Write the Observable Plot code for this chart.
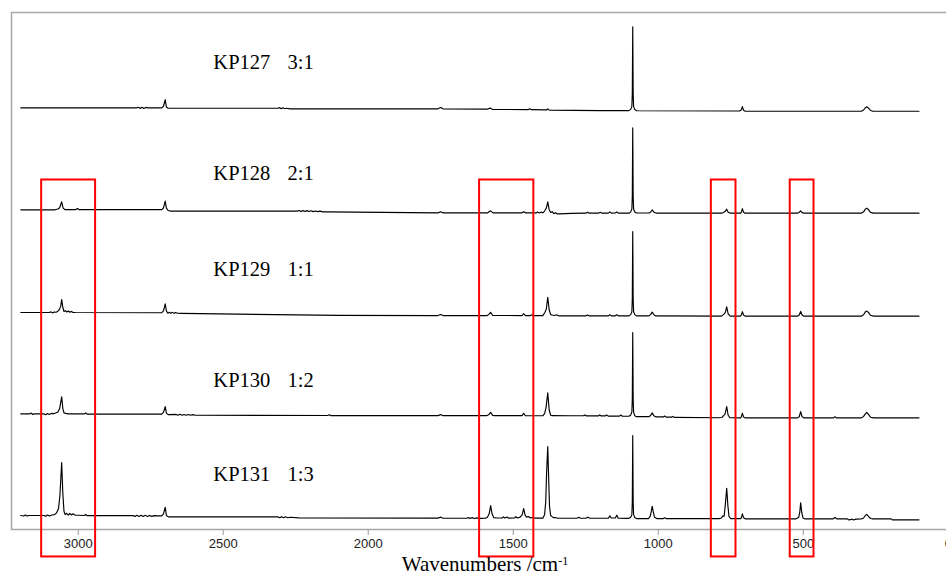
<!DOCTYPE html>
<html><head><meta charset="utf-8">
<script src="https://cdn.jsdelivr.net/npm/d3@7"></script>
<script src="https://cdn.jsdelivr.net/npm/@observablehq/plot@0.6"></script>
<style>
html,body{margin:0;padding:0;background:#fff;overflow:hidden;}
#chart{width:962px;}
</style></head><body><div id="chart"></div>
<script>
// ---- data ----
const names = ["KP127","KP128","KP129","KP130","KP131"];
const ratios = ["3:1","2:1","1:1","1:2","1:3"];
const labelLift = [50.5, 39.5, 46, 36, 44.5];   // label height above each trace (intensity units)
const labelWn = 2534, ratioWn = 2278;                 // wavenumber where labels start
const stackStep = 121.3;                              // vertical stacking between traces
const xTicks = [3000, 2500, 2000, 1500, 1000, 500, 0];
const xTitle = "Wavenumbers /cm";
const xTitleSup = "-1";
const boxStart = [3126, 1616, 817, 545];
const boxEnd   = [2940, 1429, 732, 463];
const boxTop = 403.4, boxBottom = -45.4;

// [wavenumber, relative intensity]
const kp127 = [
[3198,4],[2800,4],[2792,4.8],[2786,3.4],[2780,4.8],[2774,3.4],[2767,4.6],[2758,4],[2712,4],[2706,6],[2700,14],[2696,5],[2690,3.6],
[2312,3.6],[2305,4.3],[2300,3],[2294,4.2],[2288,3],[2282,3.6],[2270,2.9],
[1760,2.9],[1750,4.4],[1742,2.9],[1590,2.5],[1580,3.8],[1572,2.3],[1448,2],[1443,3],[1438,1.9],[1386,1.6],[1381,2.8],[1376,1.4],
[1200,0.8],[1101,0.8],[1095,2.3],[1091,5.8],[1089.5,21],[1088,100.5],[1086.5,21],[1085,5.5],[1081,2],[1075,0.6],
[720,0.3],[714,1.6],[710,5.6],[706,1.2],[700,0],
[300,0],[292,1.5],[286,4.2],[281,5.3],[276,4],[268,1],[260,0],[101,0]
];
const kp128 = [
[3198,4],[3080,4],[3070,5],[3064,6.5],[3057,13.5],[3052,6],[3046,4.3],[3008,4.3],[3003,5.6],[2998,4.3],
[2712,4.3],[2706,6.2],[2700,14.3],[2696,6],[2690,3.2],[2680,2.4],
[2245,2.4],[2238,3.2],[2232,1.9],[2225,3],[2218,1.9],[2211,3],[2204,1.9],[2197,2.8],[2190,1.8],[2182,2.6],[2174,1.8],[2166,2.4],[2158,1.6],[2140,1.5],
[1760,0.4],[1750,1.6],[1743,0.4],[1588,0.4],[1578,2.8],[1570,0.4],[1470,0.4],[1464,1.8],[1458,0.4],
[1420,0.4],[1416,1.4],[1410,0.3],[1404,1.2],[1398,0.4],[1392,2.5],[1386,6],[1381,13.5],[1376,4],[1371,0.8],[1366,1.8],[1360,-0.6],[1354,0.6],[1348,-0.9],[1340,-0.8],
[1300,-0.3],[1250,0],[1244,1.2],[1238,0],[1206,0],[1200,1],[1194,0],[1172,0],[1167,1.5],[1162,0],[1148,0.2],[1143,1.6],[1138,0],
[1101,0],[1095,1.5],[1091,5],[1089.5,20],[1088,101.5],[1086.5,20],[1085,5],[1081,1.5],[1075,0.2],
[1032,0.2],[1026,1.5],[1021,3.8],[1015,1.2],[1008,0.1],
[782,0],[775,0.8],[769,2.2],[764,4.8],[759,1.2],[752,0],
[716,0],[713,1.5],[710,5.4],[706,1.2],[701,0],
[520,0],[514,0.8],[509,2.8],[504,0.6],[498,0],
[300,0],[292,1.6],[286,4.8],[281,6],[276,4.4],[268,1],[258,0],[101,0]
];
const kp129 = [
[3198,3],[3100,3],[3094,3.8],[3089,2.6],[3083,3.6],[3076,3.4],[3070,4.6],[3064,7],[3060,11],[3057,18.5],[3053,9],[3049,4.2],[3044,5.2],[3039,3.6],[3034,4.8],[3029,3.4],[3024,4.3],[3018,3.2],[3010,3],
[2712,2.8],[2706,5],[2700,13.3],[2696,5],[2691,2.2],[2686,3.3],[2681,2.1],[2676,3.2],[2670,2],[2664,3],[2658,2.1],[2645,2],
[2100,-0.4],[1760,-0.6],[1750,0.7],[1742,-0.6],[1590,-0.6],[1584,0.8],[1578,3.3],[1571,-0.5],[1470,-0.6],[1464,1.6],[1458,-0.6],[1440,-0.6],[1436,0.4],[1432,-0.7],
[1398,-0.6],[1392,2.5],[1386,7],[1381,21.2],[1376,6],[1371,0.5],[1366,0],[1358,-0.6],[1350,0.4],[1344,-1],
[1250,-1],[1244,0.2],[1238,-1],[1172,-1],[1167,0.6],[1162,-1],[1148,-1],[1143,0.6],[1138,-1],
[1101,-1],[1095,0.5],[1091,4],[1089.5,19],[1088,99.5],[1086.5,19],[1085,4],[1081,0.5],[1075,-1],
[1032,-1],[1026,0.8],[1021,3.5],[1015,0.3],[1008,-1],
[782,-1.2],[775,0.5],[769,3],[764,9.8],[759,1.5],[752,-1.2],
[716,-1.2],[713,0.5],[710,4],[706,0],[701,-1.3],
[520,-1.3],[514,0],[509,4.3],[504,0],[498,-1.3],
[300,-1.3],[292,0.4],[286,3.8],[281,4.7],[276,3.4],[268,-0.3],[258,-1.3],[101,-1.3]
];
const kp130 = [
[3198,3.6],[3168,3.6],[3162,4.6],[3157,2.9],[3152,3.8],[3118,3.6],[3112,2.6],[3106,4],[3100,3],[3093,4.2],[3085,4],[3078,4.7],[3070,6],[3064,10],[3057,24],[3053,10],[3049,4.8],[3043,4.2],[3035,3.6],[3010,3.6],[2978,3.6],[2974,4.8],[2970,3.4],
[2712,3.4],[2706,5.5],[2700,12.3],[2696,4.5],[2690,2.8],[2662,3],[2656,2],[2649,3.1],[2642,2],[2635,3],[2628,2],[2620,2.9],[2613,2],[2605,2.7],[2597,2],[2585,2],
[2140,1.7],[2134,2.7],[2128,1.5],[1760,1.6],[1750,2.8],[1742,1.5],
[1592,1.5],[1585,2.6],[1578,5.5],[1571,1.9],[1564,1.5],[1470,1.5],[1464,4.3],[1458,1.4],[1398,1.4],[1392,4],[1387,11],[1381,28.6],[1376,8],[1371,2],[1366,1.5],
[1300,1.4],[1258,1.4],[1253,2.4],[1248,1.2],[1207,1.2],[1202,2.4],[1197,1.2],[1183,1.2],[1178,2.4],[1173,1],[1134,1],[1129,2.3],[1124,0.9],
[1101,0.8],[1095,2.3],[1091,6],[1089.5,21],[1088,100.5],[1086.5,21],[1085,5.5],[1081,1.5],[1075,0.3],
[1032,0.3],[1026,2],[1021,4.8],[1015,1.3],[1008,0],[982,0],[978,1.1],[973,-0.2],[954,-0.3],[950,0.7],[945,-0.5],
[790,-0.9],[780,-0.6],[775,1.6],[770,3],[764,12.3],[759,2],[753,-1],
[716,-1.1],[713,0.6],[710,4.4],[706,0],[701,-1.1],
[520,-1.1],[514,0.2],[509,6.3],[504,0.2],[498,-1.1],
[396,-1.1],[391,0.2],[386,-1.1],
[300,-1.1],[292,0.6],[286,3.6],[281,5.5],[276,3.4],[268,-0.3],[258,-1.1],[101,-1.1]
];
const kp131 = [
[3198,4],[3188,3.3],[3182,4.6],[3176,3.3],[3170,4],[3118,4],[3112,3],[3106,4.5],[3099,3.3],[3091,4.6],[3082,5],[3075,7],[3068,12],[3063,28],[3057,67],[3053,30],[3049,9],[3045,5],[3040,6.6],[3034,4.5],[3029,6.4],[3023,4.6],[3018,6],[3011,4.5],[3000,4.3],
[2978,4],[2974,5.4],[2970,3.8],
[2810,3.8],[2804,2.8],[2798,4.2],[2790,2.8],[2783,4.2],[2776,2.8],[2769,4.2],[2761,2.8],[2754,4],[2746,2.9],[2738,3.8],[2725,3.5],
[2712,3.5],[2706,6],[2700,13.8],[2696,4],[2689,2.3],
[2312,2.3],[2305,1.3],[2299,2.6],[2292,1.2],[2285,2.4],[2278,1.3],[2268,1.9],[2240,1.2],
[1760,0.8],[1750,2],[1742,0.7],[1660,0.7],[1655,1.6],[1650,0.3],[1642,1.4],[1634,0.4],[1625,1.2],[1615,0.6],
[1596,0.7],[1589,2],[1583,6],[1578,15.8],[1573,6],[1567,1.4],[1558,1],[1538,1],[1534,2.4],[1529,0.9],[1522,2.2],[1517,0.9],[1496,1],[1491,2.6],[1486,1],[1476,2],[1469,5],[1464,12.3],[1459,4],[1454,2],[1448,2.8],[1442,1.2],[1434,1.6],[1427,0.8],
[1398,0.8],[1392,5],[1388,20],[1385,55],[1381,86],[1378,50],[1375,15],[1371,4],[1366,2.6],[1361,1.4],[1355,1.6],[1347,0.7],
[1280,0.7],[1274,1.8],[1268,0.7],[1250,0.7],[1243,2],[1236,0.7],[1172,0.7],[1167,3.6],[1162,1],[1148,1],[1143,4.3],[1138,0.8],
[1101,0.6],[1095,2],[1091,5],[1089.5,20],[1088,99],[1086.5,20],[1085,5],[1081,1.5],[1075,0.3],
[1034,0.3],[1028,3],[1024,9],[1021,15],[1017,8],[1013,2],[1005,0.3],[982,0.3],[978,1.2],[973,0.3],
[790,0.2],[782,1],[777,3.5],[773,3],[769,16],[764,36.4],[760,16],[756,2.5],[750,0.2],
[716,0.2],[713,1.8],[710,6],[706,1.4],[700,0],
[525,0],[516,1.5],[512,8],[509,19],[505,7],[501,1],[495,0],
[397,0],[391,1.5],[385,0],[348,0],[344,-1.2],[337,-1],[332,-0.3],[327,-1.4],[318,-0.3],[300,-0.2],
[292,1],[286,4],[281,5.3],[276,3.2],[268,0.4],[260,0],[197,0],[193,-1.2],[101,-1.2]
];

// ---- build tables ----
const spectra = [kp127, kp128, kp129, kp130, kp131];
const offsets = names.map((_, i) => (names.length - 1 - i) * stackStep);
const rows = spectra.flatMap((s, i) => s.map(([wn, v]) => ({name: names[i], wn, y: v + offsets[i]})));
const labels = names.map((n, i) => ({name: n, ratio: ratios[i], xn: labelWn, xr: ratioWn, y: offsets[i] + labelLift[i]}));
const boxes = boxStart.map((s, i) => ({x1: s, x2: boxEnd[i], y1: boxBottom, y2: boxTop}));

const serif = "'Liberation Serif', 'Times New Roman', serif";

const plot = Plot.plot({
  width: 962, height: 575,
  marginLeft: 11, marginRight: 0, marginTop: 12, marginBottom: 46,
  style: {fontFamily: "'Liberation Sans', Arial, sans-serif", fontSize: "13px", background: "#fff", maxWidth: "none", overflow: "visible"},
  x: {domain: [3230, -49], label: null},
  y: {domain: [-12.7, 602.8], axis: null, label: null},
  marks: [
    Plot.frame({stroke: "#a6a6a6", strokeWidth: 1.5}),
    Plot.axisX(xTicks, {tickFormat: d => String(d), tickSize: 6, tickPadding: 3, stroke: "#9a9a9a", fill: "#222", fontSize: 13, label: null}),
    Plot.line(rows, {x: "wn", y: "y", z: "name", stroke: "#000", strokeWidth: 1.15}),
    Plot.text(labels, {x: "xn", y: "y", text: "name", textAnchor: "start", lineAnchor: "bottom", fontFamily: serif, fontSize: 20.5, fill: "#000"}),
    Plot.text(labels, {x: "xr", y: "y", text: "ratio", textAnchor: "start", lineAnchor: "bottom", fontFamily: serif, fontSize: 20.5, fill: "#000"}),
    Plot.rect(boxes, {x1: "x1", x2: "x2", y1: "y1", y2: "y2", fill: "none", stroke: "#ff0000", strokeWidth: 2}),
    Plot.text([xTitle], {frameAnchor: "bottom", dy: 41.5, dx: -2, text: d => d, lineAnchor: "bottom", fontFamily: serif, fontSize: 21, fill: "#000"})
  ]
});

d3.select(plot).selectAll("text").filter(function() { return this.textContent === xTitle; })
  .append("tspan").attr("font-size", 12).attr("dy", -6).text(xTitleSup);

document.getElementById("chart").appendChild(plot);
</script>
</body></html>
